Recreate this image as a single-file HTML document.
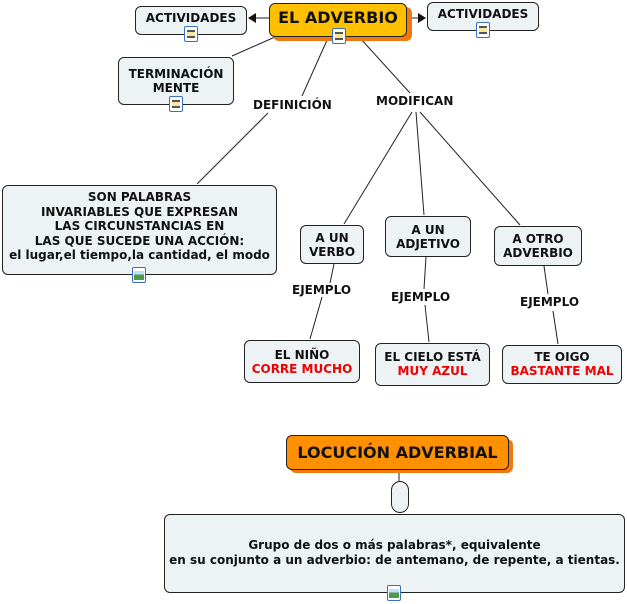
<!DOCTYPE html>
<html><head><meta charset="utf-8"><style>
body{margin:0;width:627px;height:604px;background:#fff;position:relative;overflow:hidden;font-family:"DejaVu Sans","Liberation Sans",sans-serif;font-weight:bold;font-size:12px;color:#111}
.n{position:absolute;box-sizing:border-box;background:#edf3f5;border:1px solid #222;border-radius:6px;text-align:center;line-height:14px;white-space:nowrap}
.l{position:absolute;background:#fff;font-size:12px;line-height:14px;padding:0 1px}
.r{color:#e00}
.ic{position:absolute;width:14px;height:16px;border:1px solid #3a6ebf;background:#fff;box-sizing:border-box;border-radius:2px}
.ic:before{content:"";position:absolute;left:2px;top:3px;width:8px;height:8px;border-top:2px solid #555;border-bottom:2px solid #555;box-sizing:border-box;background:#f6e8a0}
.ic.p:before{left:1px;top:3px;width:10px;height:9px;background:linear-gradient(#bfe0ff 40%,#4a9a4a 40%);border:none}
svg{position:absolute;left:0;top:0}
</style></head><body>
<svg width="627" height="604">
<g stroke="#222" stroke-width="1" fill="none">
<line x1="269" y1="18" x2="254" y2="18"/>
<line x1="406" y1="18" x2="420" y2="18"/>
<line x1="275" y1="37" x2="232" y2="56"/>
<line x1="328" y1="38" x2="302" y2="96"/>
<line x1="360" y1="38" x2="410" y2="93"/>
<line x1="268" y1="113" x2="197" y2="184"/>
<line x1="412" y1="112" x2="344" y2="224"/>
<line x1="416" y1="112" x2="424" y2="215"/>
<line x1="420" y1="112" x2="520" y2="225"/>
<line x1="334" y1="264" x2="330" y2="283"/>
<line x1="322" y1="297" x2="310" y2="339"/>
<line x1="426" y1="257" x2="424" y2="289"/>
<line x1="425" y1="305" x2="429" y2="342"/>
<line x1="544" y1="266" x2="548" y2="294"/>
<line x1="553" y1="311" x2="558" y2="344"/>
<line x1="399" y1="470" x2="399" y2="481"/>
</g>
<polygon points="248,18 256,13 256,23" fill="#111"/>
<polygon points="426,18 418,13 418,23" fill="#111"/>
</svg>
<div class="n" style="left:135px;top:6px;width:112px;height:29px;padding-top:4px">ACTIVIDADES</div>
<div class="ic" style="left:184px;top:26px"></div>
<div class="n" style="left:273px;top:7px;width:139px;height:34px;background:#f07a10;border:none"></div>
<div class="n" style="left:269px;top:3px;width:138px;height:34px;background:#ffc000;font-size:16px;line-height:18px;padding-top:5px">EL ADVERBIO</div>
<div class="ic" style="left:332px;top:28px"></div>
<div class="n" style="left:427px;top:2px;width:112px;height:29px;padding-top:4px">ACTIVIDADES</div>
<div class="ic" style="left:476px;top:22px"></div>
<div class="n" style="left:118px;top:57px;width:116px;height:48px;padding-top:9px">TERMINACIÓN<br>MENTE</div>
<div class="ic" style="left:169px;top:96px"></div>
<div class="l" style="left:252px;top:98px">DEFINICIÓN</div>
<div class="l" style="left:375px;top:94px">MODIFICAN</div>
<div class="n" style="left:2px;top:185px;width:275px;height:90px;padding-top:4px;line-height:14.5px">SON PALABRAS<br>INVARIABLES QUE EXPRESAN<br>LAS CIRCUNSTANCIAS EN<br>LAS QUE SUCEDE UNA ACCIÓN:<br>el lugar,el tiempo,la cantidad, el modo</div>
<div class="ic p" style="left:132px;top:267px"></div>
<div class="n" style="left:300px;top:225px;width:64px;height:39px;padding-top:5px">A UN<br>VERBO</div>
<div class="n" style="left:385px;top:216px;width:86px;height:41px;padding-top:6px">A UN<br>ADJETIVO</div>
<div class="n" style="left:494px;top:226px;width:88px;height:40px;padding-top:5px">A OTRO<br>ADVERBIO</div>
<div class="l" style="left:291px;top:283px">EJEMPLO</div>
<div class="l" style="left:390px;top:290px">EJEMPLO</div>
<div class="l" style="left:519px;top:295px">EJEMPLO</div>
<div class="n" style="left:244px;top:340px;width:116px;height:43px;padding-top:7px">EL NIÑO<br><span class="r">CORRE MUCHO</span></div>
<div class="n" style="left:375px;top:343px;width:115px;height:43px;padding-top:6px">EL CIELO ESTÁ<br><span class="r">MUY AZUL</span></div>
<div class="n" style="left:502px;top:345px;width:120px;height:39px;padding-top:4px">TE OIGO<br><span class="r">BASTANTE MAL</span></div>
<div class="n" style="left:290px;top:439px;width:223px;height:34px;background:#f07a10;border:none"></div>
<div class="n" style="left:286px;top:435px;width:223px;height:35px;background:#ff9000;font-size:16px;line-height:18px;padding-top:8px">LOCUCIÓN ADVERBIAL</div>
<div class="n" style="left:391px;top:481px;width:18px;height:32px;border-radius:9px"></div>
<div class="n" style="left:164px;top:514px;width:461px;height:79px;padding-top:23px;line-height:15px">Grupo de dos o más palabras*, equivalente<br>en su conjunto a un adverbio: de antemano, de repente, a tientas.</div>
<div class="ic p" style="left:387px;top:585px"></div>
</body></html>
